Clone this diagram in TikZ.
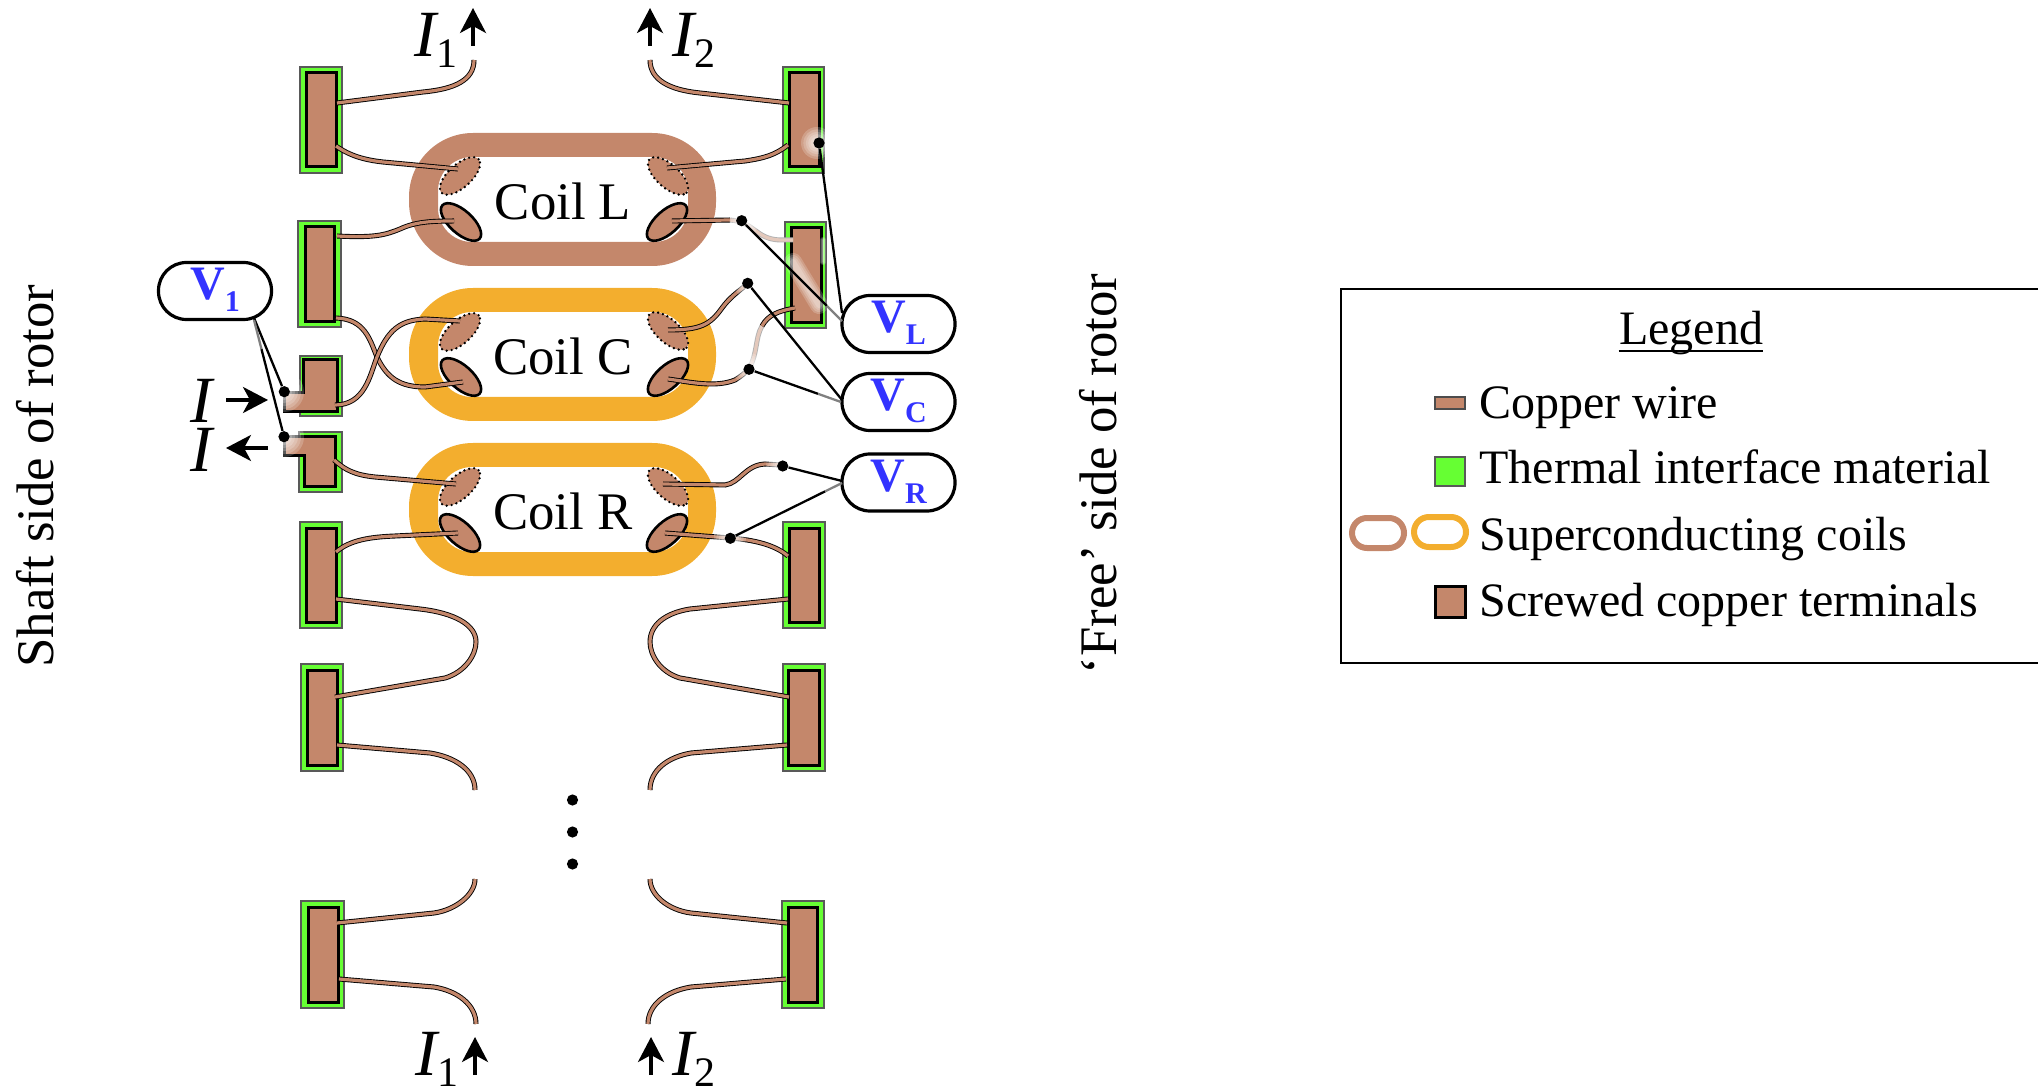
\documentclass[tikz,border=0pt]{standalone}
\usepackage{fontspec}
\setmainfont{Liberation Serif}
\usetikzlibrary{arrows.meta,shapes.geometric,calc}
\definecolor{cu}{HTML}{C4876B}
\definecolor{sc}{HTML}{F3AE2E}
\definecolor{tim}{HTML}{66FF33}
\definecolor{vb}{HTML}{3333FF}
\tikzset{
  x=0.5pt,y=-0.5pt,
  timbox/.style={fill=tim,draw=black!65,line width=.6pt},
  cubox/.style={fill=cu,draw=black,line width=1.5pt,line join=miter},
  wire/.style={draw=black,line width=.45pt,double=cu,double distance=1.6pt},
  palewire/.style={draw=black!30,line width=.45pt,double=cu!45,double distance=1.6pt},
  padsolid/.style={ellipse,fill=cu,draw=black,line width=1.3pt,minimum width=25pt,minimum height=11.5pt,inner sep=0pt},
  paddot/.style={ellipse,fill=cu,draw=black,line width=1.3pt,line cap=round,dash pattern=on 0pt off 2.5pt,minimum width=25pt,minimum height=11.5pt,inner sep=0pt},
  vbox/.style={draw=black,fill=white,line width=1.6pt,rounded corners=14pt,minimum width=56.5pt,minimum height=28.5pt,inner sep=0pt,text=vb,text height=12pt,text depth=3pt},
  probe/.style={circle,fill=black,inner sep=0pt,minimum size=5.6pt},
  conn/.style={draw=black,line width=1.15pt},
  connfade/.style={draw=black!50,line width=1.15pt},
  curarrow/.style={draw=black,line width=1.7pt,-{Stealth[length=12.5pt,width=13pt,inset=3.5pt]}},
  body/.style={font=\fontsize{26.4}{28}\selectfont,inner sep=0pt},
  legtext/.style={font=\fontsize{24}{26}\selectfont,inner sep=0pt,anchor=base west},
  curlabel/.style={inner sep=0pt,anchor=base west},
}
\newcommand{\vlab}[1]{{\fontsize{24}{24}\selectfont\bfseries V}\raisebox{-6pt}{\fontsize{15}{15}\selectfont\bfseries #1}}
\newcommand{\curI}[1]{{\fontsize{33}{33}\selectfont\itshape I}\raisebox{-5.5pt}{\fontsize{21}{21}\selectfont #1}}
\newcommand{\termbox}[8]{\draw[timbox] (#1,#2) rectangle (#3,#4); \draw[cubox] (#5,#6) rectangle (#7,#8);}
\newcommand{\coilshape}[2]{\fill[#1,even odd rule,rounded corners=32pt] (409,#2) rectangle (716,#2+133) [rounded corners=17pt] (438,#2+24) rectangle (688,#2+109);}
\newcommand{\halo}[2]{\foreach \r in {5,8,11,14,17,20}{\fill[white,opacity=.2] (#1) circle[radius=\r*#2];}}
\begin{document}
\begin{tikzpicture}
\useasboundingbox (0,0) rectangle (2038,1090);
% coils
\coilshape{cu}{133}
\coilshape{sc}{288}
\coilshape{sc}{443}
% pads
\node[paddot,rotate=42] (pLa) at (460,176) {};
\node[padsolid,rotate=-42] (pLb) at (461,222) {};
\node[paddot,rotate=-42] (pLc) at (668,176) {};
\node[padsolid,rotate=42] (pLd) at (667,222) {};
\node[paddot,rotate=42] (pCa) at (460,332) {};
\node[padsolid,rotate=-42] (pCb) at (461,377) {};
\node[paddot,rotate=-42] (pCc) at (668,331) {};
\node[padsolid,rotate=42] (pCd) at (668,377) {};
\node[paddot,rotate=42] (pRa) at (460,487) {};
\node[padsolid,rotate=-42] (pRb) at (460,533) {};
\node[paddot,rotate=-42] (pRc) at (668,487) {};
\node[padsolid,rotate=42] (pRd) at (667,533) {};
% terminals, left
\termbox{300}{67}{342}{173}{306}{73}{336}{167}
\termbox{298}{221}{341}{327}{305}{227}{334}{322}
\draw[timbox] (300,356) rectangle (342,416);
\draw[cubox] (303,360) -- (337,360) -- (337,412) -- (284,412) -- (284,393) -- (303,393) -- cycle;
\draw[timbox] (299,432) rectangle (342,492);
\draw[cubox] (284,437) -- (335,437) -- (335,487) -- (304,487) -- (304,456) -- (284,456) -- cycle;
\termbox{300}{522}{342}{628}{306}{528}{336}{622}
\termbox{301}{664}{343}{771}{307}{670}{337}{765}
\termbox{301}{901}{344}{1008}{308}{907}{338}{1002}
% terminals, right
\termbox{783}{67}{824}{173}{789}{73}{819}{167}
\termbox{785}{222}{826}{328}{791}{228}{821}{323}
\termbox{783}{522}{825}{628}{789}{528}{819}{622}
\termbox{783}{664}{825}{771}{788}{670}{819}{765}
\termbox{782}{901}{824}{1008}{788}{907}{817}{1002}
% wires, left
\draw[wire] (337,103) -- (423,92) .. controls (455,89) and (474,80) .. (474,60);
\draw[wire] (336,146) .. controls (350,156) and (365,160) .. (383,162) -- (458,169);
\draw[wire] (337,236) .. controls (375,238) and (385,235) .. (400,229) .. controls (415,222) and (430,221) .. (454,221);
\draw[wire] (336,318) .. controls (365,319) and (370,340) .. (377,357) .. controls (387,378) and (400,387) .. (425,387) -- (463,382);
\draw[wire] (335,405) .. controls (365,405) and (370,375) .. (377,357) .. controls (388,330) and (400,320) .. (425,319) -- (460,321);
\draw[wire] (334,460) .. controls (345,470) and (355,475) .. (375,477) -- (456,484);
\draw[wire] (336,552) .. controls (350,540) and (370,537) .. (395,536) -- (458,533);
\draw[wire] (336,599) -- (420,609) .. controls (455,613) and (476,625) .. (476,642) .. controls (476,655) and (465,672) .. (445,678) -- (335,697);
\draw[wire] (337,745) -- (430,753) .. controls (455,757) and (475,770) .. (475,790);
\draw[wire] (337,923) -- (434,913) .. controls (455,910) and (475,895) .. (475,879);
\draw[wire] (339,979) -- (434,987) .. controls (458,991) and (476,1005) .. (476,1024);
% wires, right
\draw[wire] (789,103) -- (700,93) .. controls (670,90) and (650,80) .. (650,60);
\draw[wire] (788,145) .. controls (775,155) and (765,158) .. (745,161) -- (667,168);
\draw[wire] (672,221) -- (730,220);
\draw[palewire] (730,220) .. controls (755,222) and (755,239) .. (780,240) -- (793,240);
\draw[wire] (668,330) .. controls (700,330) and (710,325) .. (722,308) .. controls (730,297) and (738,292) .. (746,285);
\draw[wire] (668,379) .. controls (690,382) and (715,388) .. (735,380) .. controls (740,377) and (745,373) .. (749,369);
\draw[palewire] (749,369) .. controls (758,352) and (755,338) .. (762,326);
\draw[wire] (762,326) .. controls (768,315) and (778,311) .. (795,308);
\draw[wire] (663,484) -- (725,485) .. controls (740,483) and (745,465) .. (765,464) -- (780,465);
\draw[wire] (665,533) -- (730,538) .. controls (755,540) and (775,545) .. (788,556);
\draw[wire] (788,599) -- (690,609) .. controls (665,613) and (650,625) .. (650,642) .. controls (650,655) and (660,672) .. (680,678) -- (789,697);
\draw[wire] (787,745) -- (691,753) .. controls (668,757) and (650,770) .. (650,790);
\draw[wire] (787,923) -- (691,913) .. controls (668,910) and (650,895) .. (650,879);
\draw[wire] (786,979) -- (691,987) .. controls (666,991) and (648,1005) .. (648,1024);
% fading around the measuring points
\coordinate (gA) at (284,392);
\coordinate (gB) at (284,437);
\coordinate (gC) at (817,143);
\coordinate (gD) at (745,222);
\coordinate (gE) at (748,284);
\coordinate (gF) at (749,369);
\coordinate (gG) at (780,466);
\coordinate (gH) at (730,538);
\halo{gA}{1}
\halo{gB}{1}
\halo{gC}{.8}
\halo{gD}{.7}
\halo{gE}{.7}
\halo{gF}{.8}
\halo{gG}{.7}
\halo{gH}{.8}
\foreach \w in {3,5,7,9}{\draw[white,opacity=.2,line width=\w pt,line cap=round] (793,262) -- (819,305);}
\foreach \w in {1,2,3}{\draw[white,opacity=.22,line width=\w pt,line cap=round] (823,240) -- (823,262);}
% measuring boxes
\node[vbox] (v1) at (215,291) {\vlab{1}};
\node[vbox] (vL) at (898.5,324) {\vlab{L}};
\node[vbox] (vC) at (898.5,402) {\vlab{C}};
\node[vbox] (vR) at (898.5,482.5) {\vlab{R}};
% probes
\node[probe] (d1a) at (284.3,391.7) {};
\node[probe] (d1b) at (284,436.7) {};
\node[probe] (dLa) at (819,143) {};
\node[probe] (dLb) at (741.7,220.7) {};
\node[probe] (dCa) at (747.7,283.3) {};
\node[probe] (dCb) at (749,369.3) {};
\node[probe] (dRa) at (782.7,466) {};
\node[probe] (dRb) at (730.3,538.3) {};
% probe connectors
\coordinate (e1a) at (254,318);
\coordinate (e1b) at (254,320);
\coordinate (eLa) at (842,313);
\coordinate (eLb) at (842,321);
\coordinate (eCa) at (842,400);
\coordinate (eCb) at (841,402);
\coordinate (eRa) at (842,481);
\coordinate (eRb) at (842,483);
\draw[conn] (d1a) -- (e1a);
\draw[conn] (d1b) -- ($(d1b)!.75!(e1b)$);
\draw[connfade] ($(d1b)!.75!(e1b)$) -- (e1b);
\draw[conn] (dLa) -- (eLa);
\draw[conn] (dLb) -- ($(dLb)!.85!(eLb)$);
\draw[connfade] ($(dLb)!.85!(eLb)$) -- (eLb);
\draw[conn] (dCa) -- (eCa);
\draw[conn] (dCb) -- ($(dCb)!.75!(eCb)$);
\draw[connfade] ($(dCb)!.75!(eCb)$) -- (eCb);
\draw[conn] (dRa) -- (eRa);
\draw[conn] (dRb) -- ($(dRb)!.85!(eRb)$);
\draw[connfade] ($(dRb)!.85!(eRb)$) -- (eRb);
% coil names
\node[body,anchor=base] (nL) at (563,220) {Coil L};
\node[body,anchor=base] (nC) at (563,375) {Coil C};
\node[body,anchor=base] (nR) at (563,530) {Coil R};
\node[body,anchor=base,rotate=90] (sideA) at (53,476) {Shaft side of rotor};
\node[body,anchor=base,rotate=90] (sideB) at (1116,474) {‘Free’ side of rotor};
% currents
\node[curlabel] (i1t) at (414,57) {\curI{1}};
\node[curlabel] (i2t) at (672,57) {\curI{2}};
\node[curlabel] (i1b) at (415,1075) {\curI{1}};
\node[curlabel] (i2b) at (672,1075) {\curI{2}};
\node[curlabel] (iin) at (190,423) {\fontsize{33}{33}\selectfont\itshape I};
\node[curlabel] (iout) at (190,472) {\fontsize{33}{33}\selectfont\itshape I};
\coordinate (a1s) at (473,46); \coordinate (a1e) at (473,8);
\coordinate (a2s) at (650,46); \coordinate (a2e) at (650,8);
\coordinate (a3s) at (475,1075); \coordinate (a3e) at (475,1037);
\coordinate (a4s) at (651,1075); \coordinate (a4e) at (651,1037);
\coordinate (a5s) at (226,400); \coordinate (a5e) at (268,400);
\coordinate (a6s) at (268,448); \coordinate (a6e) at (226,448);
\foreach \s/\e in {a1s/a1e,a2s/a2e,a3s/a3e,a4s/a4e,a5s/a5e,a6s/a6e}{\draw[curarrow] (\s) -- (\e);}
% ellipsis
\foreach \n/\yy in {e1/800,e2/832,e3/864}{\node[probe] (\n) at (572.5,\yy) {};}
% legend
\draw[black,line width=1pt] (2038,289) -- (1341,289) -- (1341,663) -- (2038,663);
\node[legtext,anchor=base] (lg) at (1691,345) {Legend};
\draw[black,line width=1pt] ($(lg.base west)+(0,6)$) -- ($(lg.base east)+(0,6)$);
\draw[fill=cu,draw=black!70,line width=.6pt] (1435,397) rectangle (1465,409);
\draw[timbox] (1435,457) rectangle (1465,486);
\draw[cu,line width=3pt,rounded corners=7.5pt] (1352,518) rectangle (1404,548);
\draw[sc,line width=3pt,rounded corners=7.5pt] (1414,517) rectangle (1466,547);
\draw[cubox] (1435,586) rectangle (1465,617);
\node[legtext] (l1) at (1479,419) {Copper wire};
\node[legtext] (l2) at (1479,484) {Thermal interface material};
\node[legtext] (l3) at (1479,550) {Superconducting coils};
\node[legtext] (l4) at (1479,616) {Screwed copper terminals};
\end{tikzpicture}
\end{document}
